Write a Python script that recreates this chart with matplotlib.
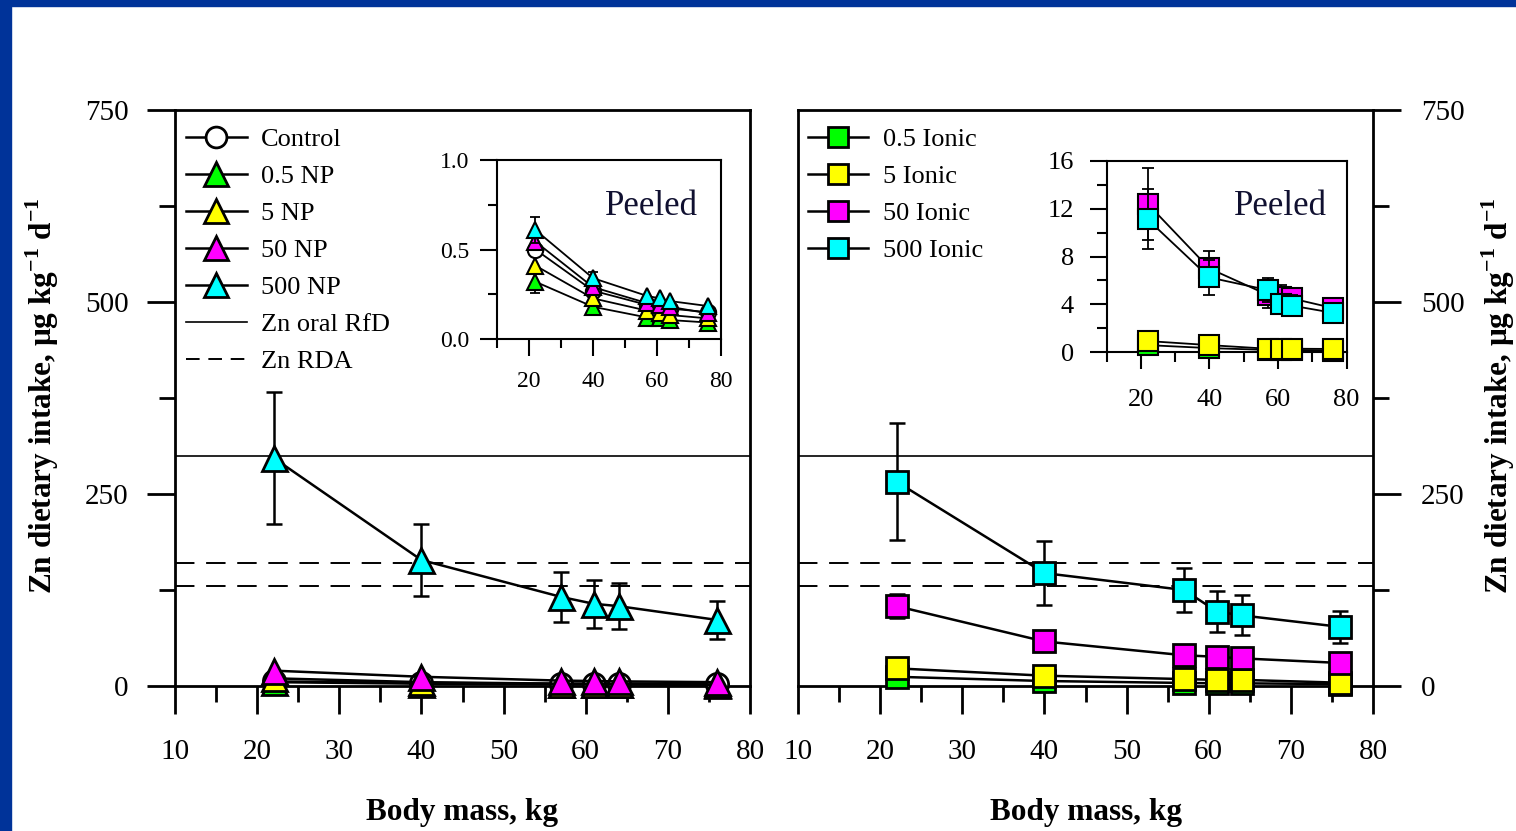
import numpy as np
import matplotlib
matplotlib.use('Agg')
import matplotlib.pyplot as plt
from matplotlib.lines import Line2D
from matplotlib.patches import Rectangle
from matplotlib.ticker import MultipleLocator

plt.rcParams['font.family'] = ['Liberation Serif', 'DejaVu Serif']
plt.rcParams['mathtext.fontset'] = 'custom'
plt.rcParams['mathtext.rm'] = 'Liberation Serif:bold'
plt.rcParams['mathtext.bf'] = 'Liberation Serif:bold'

# body mass (kg) of each age group
mass = [22, 40, 57, 61, 64, 76]

# nanoparticle treatments (whole tuber, main plot)
np_labels = ['Control', '0.5 NP', '5 NP', '50 NP', '500 NP']
np_main = [
    [6, 4, 3, 3, 3, 2.5],
    [5, 3, 2, 2, 2, 1.5],
    [10, 5, 3, 3, 3, 2],
    [20, 12, 7, 6.5, 6, 5],
    [297, 164, 116, 107, 104, 86],
]
np_main_err = [
    [0, 0, 0, 0, 0, 0],
    [0, 0, 0, 0, 0, 0],
    [0, 0, 0, 0, 0, 0],
    [0, 0, 0, 0, 0, 0],
    [86, 47, 33, 31, 30, 25],
]
# peeled (inset)
np_peeled = [
    [0.50, 0.27, 0.19, 0.18, 0.17, 0.15],
    [0.32, 0.18, 0.12, 0.115, 0.106, 0.092],
    [0.41, 0.227, 0.158, 0.143, 0.134, 0.115],
    [0.544, 0.29, 0.20, 0.19, 0.18, 0.143],
    [0.609, 0.34, 0.24, 0.227, 0.212, 0.184],
]
np_peeled_err = [
    [0.03, 0, 0, 0, 0, 0],
    [0.065, 0, 0, 0, 0, 0],
    [0, 0, 0, 0, 0, 0],
    [0, 0, 0, 0, 0, 0],
    [0.07, 0.035, 0, 0, 0, 0],
]

# ionic treatments
ionic_labels = ['0.5 Ionic', '5 Ionic', '50 Ionic', '500 Ionic']
ionic_main = [
    [12, 6.5, 4, 3.5, 3.5, 2.5],
    [23, 13.4, 9, 8, 8, 4.3],
    [104, 58, 40, 38, 36, 30],
    [266, 147, 125, 97, 92, 77],
]
ionic_main_err = [
    [0, 0, 0, 0, 0, 0],
    [0, 0, 0, 0, 0, 0],
    [16, 0, 0, 0, 0, 0],
    [76, 42, 29, 27, 26, 21],
]
ionic_peeled = [
    [0.6, 0.35, 0.2, 0.2, 0.2, 0.15],
    [0.94, 0.6, 0.3, 0.3, 0.3, 0.28],
    [12.4, 7.0, 4.8, 4.6, 4.5, 3.7],
    [11.1, 6.25, 5.2, 4.0, 3.9, 3.3],
]
ionic_peeled_err = [
    [0, 0, 0, 0, 0, 0],
    [0, 0, 0, 0, 0, 0],
    [3.0, 1.5, 1.1, 1.0, 0.8, 0.7],
    [2.5, 1.45, 1.0, 0.7, 0.85, 0.75],
]

rfd = 300
rda = [160, 130]

np_markers = ['o', '^', '^', '^', '^']
np_colors = ['white', '#00ff00', '#ffff00', '#ff00ff', '#00ffff']
ionic_colors = ['#00ff00', '#ffff00', '#ff00ff', '#00ffff']

W, H = 1516, 831
fig = plt.figure(figsize=(W / 100, H / 100), dpi=100)
fig.patches.append(Rectangle((0, 1 - 6 / H), 1, 6 / H, transform=fig.transFigure,
                             color='#003399', zorder=0))
fig.patches.append(Rectangle((0, 0), 11 / W, 1, transform=fig.transFigure,
                             color='#003399', zorder=0))


def px_axes(x0, x1, y0, y1):
    return fig.add_axes([x0 / W, 1 - y1 / H, (x1 - x0) / W, (y1 - y0) / H])


def style_axes(ax, major, minor, lw, fs, pad_x, pad_y):
    for s in ax.spines.values():
        s.set_linewidth(lw)
    ax.tick_params(which='major', direction='out', length=major, width=lw,
                   labelsize=fs)
    ax.tick_params(which='minor', direction='out', length=minor, width=lw)
    ax.tick_params(axis='x', which='major', pad=pad_x)
    ax.tick_params(axis='y', which='major', pad=pad_y)


def draw(ax, y, err, marker, color, ms, mew, lw, cap, z):
    ax.plot(mass, y, color='black', lw=lw, marker=marker, ms=ms, mfc=color,
            mec='black', mew=mew, zorder=z + 1, clip_on=False)
    idx = [i for i in range(len(err)) if err[i] > 0]
    if idx:
        ax.errorbar([mass[i] for i in idx], [y[i] for i in idx],
                    yerr=[err[i] for i in idx], fmt='none', ecolor='black',
                    elinewidth=lw, capsize=cap, capthick=lw, zorder=z)


ax1 = px_axes(175, 750, 110, 686)
ax2 = px_axes(798, 1373, 110, 686)

for ax in (ax1, ax2):
    ax.set_xlim(10, 80)
    ax.set_ylim(0, 750)
    ax.xaxis.set_major_locator(MultipleLocator(10))
    ax.xaxis.set_minor_locator(MultipleLocator(5))
    ax.yaxis.set_major_locator(MultipleLocator(250))
    ax.yaxis.set_minor_locator(MultipleLocator(125))
    style_axes(ax, 20.5, 11.5, 2.0, 21, 18, 13)
    ax.axhline(rfd, color='black', lw=1.2, zorder=1)
    for r in rda:
        ax.axhline(r, color='black', lw=1.4, ls=(0, (10, 6)), zorder=1)
    ax.set_xlabel('Body mass, kg', fontsize=22.5, fontweight='bold', labelpad=23.5)

ax2.yaxis.tick_right()
ax2.tick_params(axis='y', which='major', pad=14)

for i in range(len(np_labels)):
    ms = 16 if np_markers[i] == 'o' else 18
    draw(ax1, np_main[i], np_main_err[i], np_markers[i], np_colors[i], ms, 2.0,
         1.8, 6, 2 + 2 * i)
for i in range(len(ionic_labels)):
    draw(ax2, ionic_main[i], ionic_main_err[i], 's', ionic_colors[i], 15.5, 2.0,
         1.8, 6, 2 + 2 * i)

ylab = r'Zn dietary intake, μg kg$^{-1}$ d$^{-1}$'
fig.text(42 / W, 1 - 396 / H, ylab, rotation=90, ha='center', va='center',
         fontsize=22.5, fontweight='bold')
fig.text(1498 / W, 1 - 396 / H, ylab, rotation=90, ha='center', va='center',
         fontsize=22.5, fontweight='bold')

# legends
h1 = []
for i in range(len(np_labels)):
    ms = 15 if np_markers[i] == 'o' else 17
    h1.append(Line2D([], [], color='black', lw=1.8, marker=np_markers[i], ms=ms,
                     mfc=np_colors[i], mec='black', mew=2.0))
h1.append(Line2D([], [], color='black', lw=1.2))
h1.append(Line2D([], [], color='black', lw=1.4, ls=(0, (7, 4.5))))
ax1.legend(h1, np_labels + ['Zn oral RfD', 'Zn RDA'], loc='upper left',
           bbox_to_anchor=(0.019, 0.969), frameon=False, fontsize=19,
           handlelength=2.3, handletextpad=0.55, labelspacing=0.51,
           borderpad=0, borderaxespad=0)

h2 = []
for i in range(len(ionic_labels)):
    h2.append(Line2D([], [], color='black', lw=1.8, marker='s', ms=15,
                     mfc=ionic_colors[i], mec='black', mew=2.0))
ax2.legend(h2, ionic_labels, loc='upper left', bbox_to_anchor=(0.017, 0.969),
           frameon=False, fontsize=19, handlelength=2.3, handletextpad=0.55,
           labelspacing=0.51, borderpad=0, borderaxespad=0)

# insets
in1 = px_axes(497, 721, 160, 339)
in1.set_xlim(10, 80)
in1.set_ylim(0, 1.0)
in1.set_xticks([20, 40, 60, 80])
in1.set_xticks([10, 30, 50, 70], minor=True)
in1.set_yticks([0.0, 0.5, 1.0])
in1.set_yticklabels(['0.0', '0.5', '1.0'])
in1.yaxis.set_minor_locator(MultipleLocator(0.25))
style_axes(in1, 12, 6.5, 1.5, 17, 11, 8)
for i in range(len(np_labels)):
    ms = 11 if np_markers[i] == 'o' else 12
    draw(in1, np_peeled[i], np_peeled_err[i], np_markers[i], np_colors[i], ms,
         1.5, 1.3, 3.5, 2 + 2 * i)
in1.text(0.6875, 0.74, 'Peeled', transform=in1.transAxes, ha='center',
         va='center', fontsize=25, color='#101030')

in2 = px_axes(1106.5, 1346.5, 160.7, 352.3)
in2.set_xlim(10, 80)
in2.set_ylim(0, 16)
in2.set_xticks([20, 40, 60, 80])
in2.set_xticks([10, 30, 50, 70], minor=True)
in2.set_yticks([0, 4, 8, 12, 16])
in2.set_yticks([2, 6, 10, 14], minor=True)
style_axes(in2, 12.5, 7, 1.5, 19, 14, 11)
for i in range(len(ionic_labels)):
    draw(in2, ionic_peeled[i], ionic_peeled_err[i], 's', ionic_colors[i], 14,
         1.5, 1.3, 4.5, 2 + 2 * i)
in2.text(0.723, 0.76, 'Peeled', transform=in2.transAxes, ha='center',
         va='center', fontsize=25, color='#101030')

fig.savefig('out.png', dpi=100)
